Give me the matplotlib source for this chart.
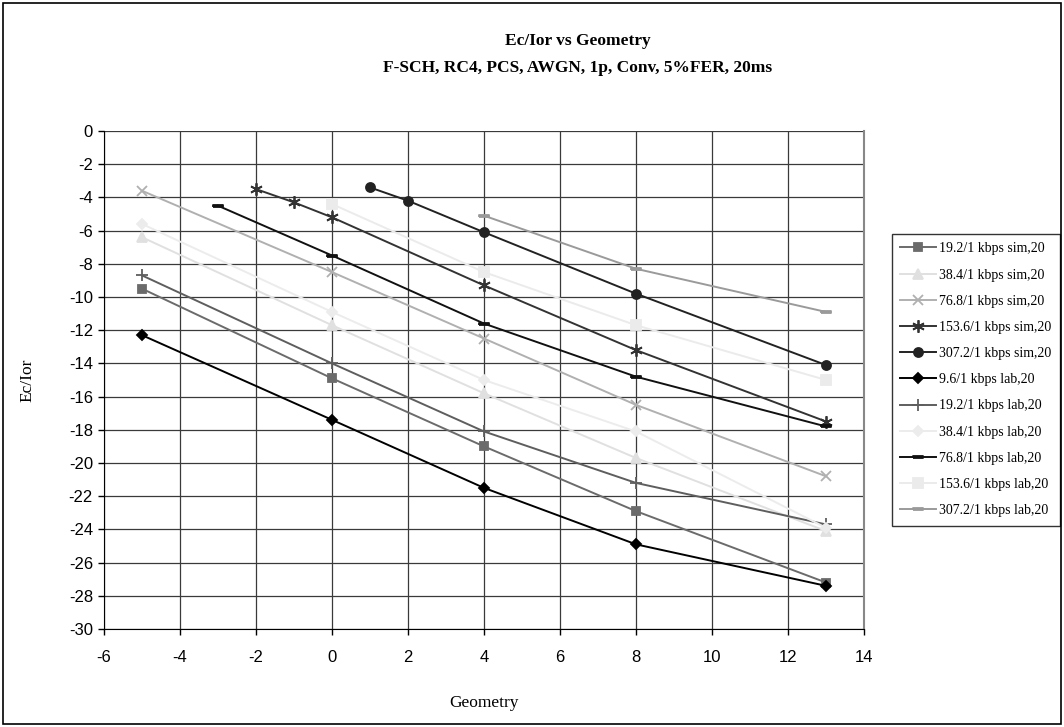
import matplotlib
matplotlib.use("Agg")
import matplotlib.pyplot as plt
from matplotlib.patches import Rectangle

plt.rcParams["axes.unicode_minus"] = False

# --- data ---
x_std = [-5, 0, 4, 8, 13]
sim_19_2 = [-9.5, -14.9, -19.0, -22.9, -27.2]
sim_38_4 = [-6.4, -11.7, -15.8, -19.7, -24.1]
sim_76_8 = [-3.6, -8.5, -12.5, -16.5, -20.8]
x_sim_153_6 = [-2, -1, 0, 4, 8, 13]
sim_153_6 = [-3.5, -4.3, -5.2, -9.3, -13.2, -17.5]
x_sim_307_2 = [1, 2, 4, 8, 13]
sim_307_2 = [-3.4, -4.2, -6.1, -9.8, -14.1]
lab_9_6 = [-12.3, -17.4, -21.5, -24.9, -27.4]
lab_19_2 = [-8.7, -14.0, -18.1, -21.2, -23.7]
lab_38_4 = [-5.6, -10.9, -15.0, -18.1, -23.9]
x_lab_76_8 = [-3, 0, 4, 8, 13]
lab_76_8 = [-4.5, -7.5, -11.6, -14.8, -17.8]
x_lab_153_6 = [0, 4, 8, 13]
lab_153_6 = [-4.4, -8.5, -11.7, -15.0]
x_lab_307_2 = [4, 8, 13]
lab_307_2 = [-5.1, -8.3, -10.9]

SERIF = ["Liberation Serif", "DejaVu Serif"]
SANS = ["Liberation Sans", "DejaVu Sans"]
ASTER = (6, 2, 0)
DASH = [(-1, -0.3), (1, -0.3), (1, 0.3), (-1, 0.3), (-1, -0.3)]

series = [
    ("19.2/1 kbps sim,20", x_std, sim_19_2, "#6b6b6b", "s", 6),
    ("38.4/1 kbps sim,20", x_std, sim_38_4, "#e0e0e0", "^", 7),
    ("76.8/1 kbps sim,20", x_std, sim_76_8, "#b0b0b0", "x", 7),
    ("153.6/1 kbps sim,20", x_sim_153_6, sim_153_6, "#333333", ASTER, 9),
    ("307.2/1 kbps sim,20", x_sim_307_2, sim_307_2, "#222222", "o", 6.5),
    ("9.6/1 kbps lab,20", x_std, lab_9_6, "#000000", "D", 5.5),
    ("19.2/1 kbps lab,20", x_std, lab_19_2, "#5e5e5e", "+", 8),
    ("38.4/1 kbps lab,20", x_std, lab_38_4, "#ececec", "D", 5.5),
    ("76.8/1 kbps lab,20", x_lab_76_8, lab_76_8, "#111111", DASH, 7),
    ("153.6/1 kbps lab,20", x_lab_153_6, lab_153_6, "#ebebeb", "s", 6.5),
    ("307.2/1 kbps lab,20", x_lab_307_2, lab_307_2, "#9a9a9a", DASH, 7),
]

fig = plt.figure(figsize=(10.64, 7.27), dpi=100)
ax = fig.add_axes([104 / 1064, 1 - 629 / 727, 760 / 1064, 498 / 727])

for label, xs, ys, col, mk, ms in series:
    ax.plot(xs, ys, color=col, lw=1.4, marker=mk, ms=ms, mfc=col, mec=col,
            mew=1.3, label=label, zorder=3)

ax.set_xlim(-6, 14)
ax.set_ylim(-30, 0)
ax.set_xticks(range(-6, 15, 2))
ax.set_yticks(range(-30, 1, 2))
ax.grid(True, color="#3a3a3a", lw=0.9, zorder=1)
ax.set_axisbelow(True)
ax.tick_params(direction="out", length=4, width=1, color="black",
               labelsize=12, pad=4)
ax.tick_params(axis="x", pad=11)
for t in ax.get_xticklabels() + ax.get_yticklabels():
    t.set_family(SANS)
ax.spines["top"].set_visible(False)
ax.spines["right"].set_color("#888888")
ax.spines["right"].set_linewidth(1.5)
ax.spines["left"].set_color("black")
ax.spines["bottom"].set_color("black")

ax.set_xlabel("Geometry", family=SERIF, fontsize=12.5, labelpad=22)
ax.set_ylabel("Ec/Ior", family=SERIF, fontsize=12.5, labelpad=24)

leg = ax.legend(loc="upper left", bbox_to_anchor=(892 / 1064, 1 - 234 / 727),
                bbox_transform=fig.transFigure, frameon=True, fancybox=False,
                prop={"family": SERIF, "size": 10}, handlelength=2.6,
                handletextpad=0.2, labelspacing=0.95, borderpad=0.6,
                borderaxespad=0)
leg.get_frame().set_edgecolor("black")
leg.get_frame().set_linewidth(1.0)

fig.text(0.543, 1 - 41 / 727, "Ec/Ior vs Geometry", ha="center", va="center",
         family=SERIF, fontsize=12.5, fontweight="bold")
fig.text(0.543, 1 - 68 / 727, "F-SCH, RC4, PCS, AWGN, 1p, Conv, 5%FER, 20ms",
         ha="center", va="center", family=SERIF, fontsize=12.5, fontweight="bold")

fig.patches.append(Rectangle((3 / 1064, 3 / 727), 1 - 6 / 1064, 1 - 6 / 727,
                             transform=fig.transFigure, fill=False,
                             ec="black", lw=1.2))

fig.savefig("out.png", dpi=100, facecolor="white")
